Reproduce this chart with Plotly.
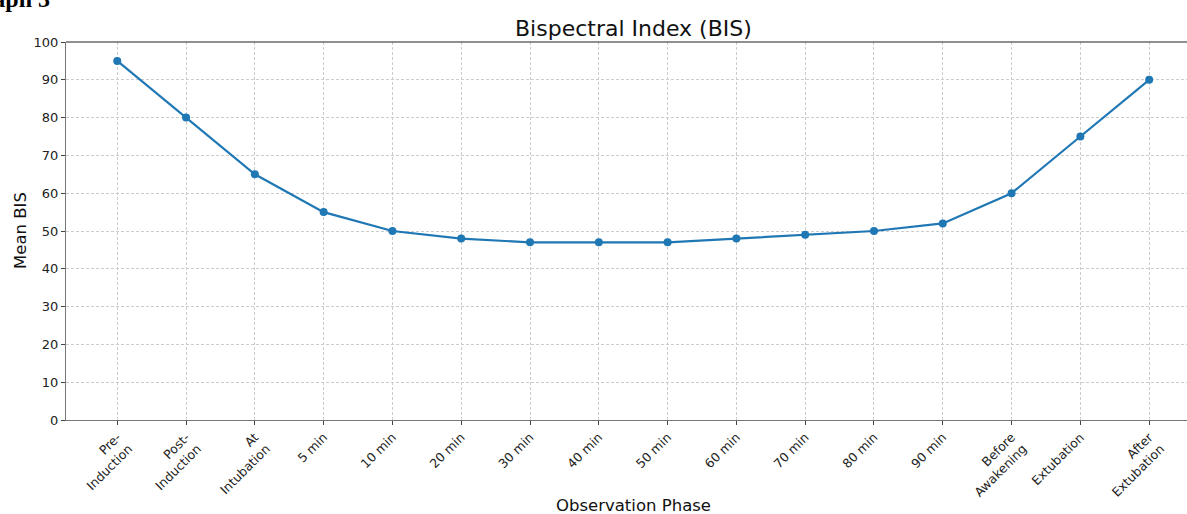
import plotly.graph_objects as go

phases = ["Pre-<br>Induction", "Post-<br>Induction", "At<br>Intubation", "5 min", "10 min",
          "20 min", "30 min", "40 min", "50 min", "60 min", "70 min", "80 min", "90 min",
          "Before<br>Awakening", "Extubation", "After<br>Extubation"]
mean_bis = [95, 80, 65, 55, 50, 48, 47, 47, 47, 48, 49, 50, 52, 60, 75, 90]
y_ticks = [0, 10, 20, 30, 40, 50, 60, 70, 80, 90, 100]

idx = list(range(len(phases)))

fig = go.Figure()
fig.add_trace(go.Scatter(
    x=idx, y=mean_bis, mode="lines+markers",
    line=dict(color="#1f77b4", width=2.2),
    marker=dict(color="#1f77b4", size=8),
    showlegend=False,
))

W, H = 1187, 514
ml, mr, mt, mb = 66, 0, 42, 94
pw, ph = W - ml - mr, H - mt - mb

grid = dict(showgrid=True, gridcolor="#cccccc", griddash="3px,2px", gridwidth=0.7)

fig.update_layout(
    width=W, height=H,
    margin=dict(l=ml, r=mr, t=mt, b=mb, autoexpand=False),
    paper_bgcolor="white", plot_bgcolor="white",
    font=dict(family="DejaVu Sans", color="#222"),
    xaxis=dict(
        range=[-0.745, 15.55], tickmode="array", tickvals=idx, ticktext=phases,
        tickangle=-45, tickfont=dict(size=12.5, color="#222"),
        showline=True, linecolor="#777", linewidth=1.2,
        ticks="outside", ticklen=4, tickcolor="#444",
        zeroline=False, automargin=False, **grid,
    ),
    yaxis=dict(
        range=[0, 100], tickmode="array", tickvals=y_ticks,
        tickfont=dict(size=13, color="#222"),
        showline=True, linecolor="#777", linewidth=1.2,
        ticks="outside", ticklen=4, tickcolor="#444",
        zeroline=False, automargin=False, **grid,
    ),
)

fig.add_shape(type="line", xref="paper", yref="paper", x0=0, x1=1, y0=1, y1=1,
              line=dict(color="#222", width=1.2))

# title
fig.add_annotation(text="Bispectral Index (BIS)", xref="paper", yref="paper",
                   x=(633 - ml) / pw, y=1 + (mt - 28) / ph, xanchor="center", yanchor="middle",
                   showarrow=False, font=dict(size=22, color="#111"))
# axis titles
fig.add_annotation(text="Observation Phase", xref="paper", yref="paper",
                   x=(633 - ml) / pw, y=-(505 - mt - ph) / ph, xanchor="center", yanchor="middle",
                   showarrow=False, font=dict(size=16.5, color="#111"))
fig.add_annotation(text="Mean BIS", xref="paper", yref="paper",
                   x=-(ml - 20) / pw, y=1 - (231 - mt) / ph, xanchor="center", yanchor="middle",
                   textangle=-90, showarrow=False, font=dict(size=16.5, color="#111"))

fig.add_annotation(text="<b>Graph 3</b>", xref="paper", yref="paper",
                   x=-(ml - 52) / pw, y=1 + (mt + 1) / ph,
                   xanchor="right", yanchor="middle", showarrow=False,
                   font=dict(family="Liberation Serif", size=24, color="#000"))

fig.write_html("out.html",
               config={"displayModeBar": False},
               post_script="document.body.style.margin='0';document.body.style.overflow='hidden';")
